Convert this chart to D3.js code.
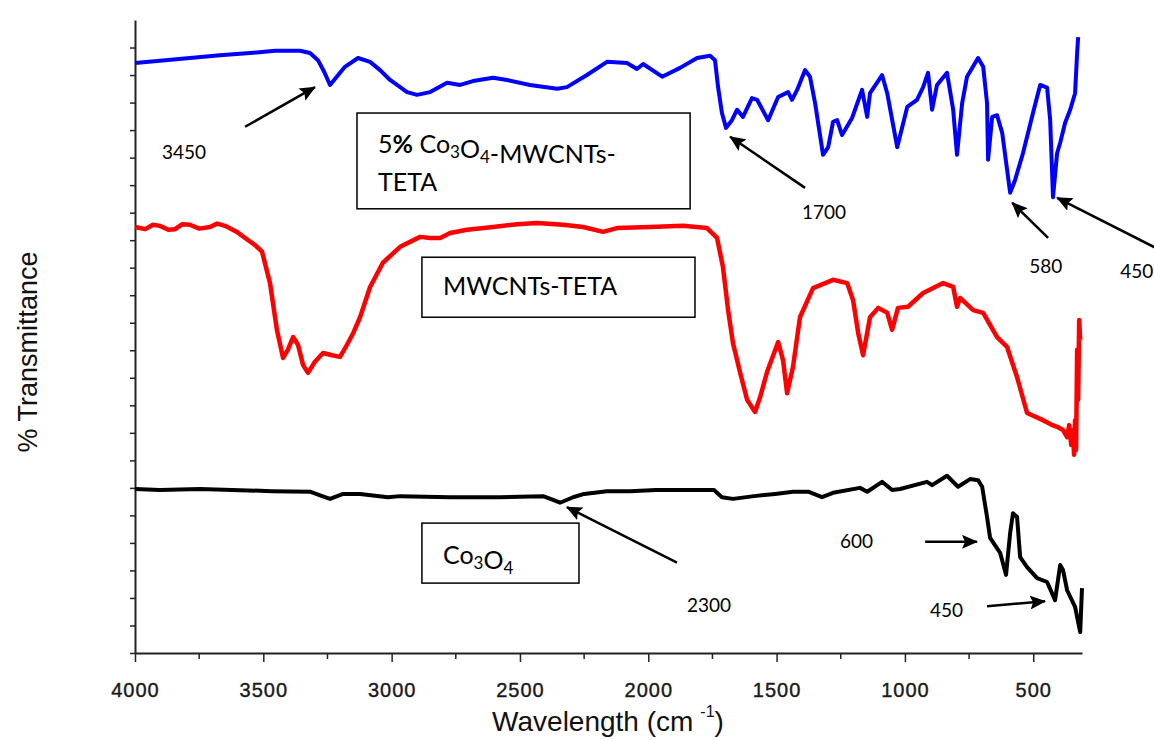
<!DOCTYPE html>
<html>
<head>
<meta charset="utf-8">
<script src="https://cdn.jsdelivr.net/npm/d3@7"></script>
<style>
  html, body { margin: 0; padding: 0; background: #fff; }
  svg { display: block; }
</style>
</head>
<body>
<svg id="chart" width="1154" height="740"></svg>
<script>
// FTIR spectra: wavenumber (cm^-1) and offset % transmittance for each sample

const blueWn = [4000,3903,3786,3669,3552,3454,3357,3318,3287,3263,3240,3217,3182,3131,3084,3045,3006,2940,2901,2850,2784,2733,2683,2605,2550,2461,2355,2317,2239,2161,2083,2044,2020,1946,1876,1810,1759,1740,1728,1713,1697,1674,1654,1631,1596,1576,1533,1494,1455,1440,1420,1389,1370,1350,1319,1299,1280,1264,1245,1206,1167,1147,1136,1089,1069,1030,991,953,929,910,894,875,836,812,797,777,758,715,695,680,676,660,641,621,590,571,540,501,473,446,434,423,407,395,376,356,337,329,325];
const blueT  = [107.2,107.6,108.1,108.6,109.0,109.4,109.4,109.0,107.7,105.6,103.2,104.5,106.5,108.1,107.4,105.9,104.1,101.9,101.4,101.9,103.6,103.2,103.9,104.5,104.1,103.2,102.5,102.8,105.0,107.4,107.2,106.1,107.0,104.7,106.3,108.1,108.5,107.7,102.8,98.1,95.4,96.8,98.7,97.4,100.8,100.5,96.8,101.0,101.9,100.5,102.3,105.9,104.7,99.9,90.5,91.9,96.5,96.8,94.1,97.2,102.3,97.4,101.7,105.0,101.7,91.9,99.2,100.5,102.8,105.4,98.7,103.2,105.4,98.7,90.5,99.9,104.7,108.1,106.5,99.9,89.6,97.4,97.7,94.5,83.6,85.9,90.8,98.1,103.2,102.7,96.8,82.8,90.8,92.7,96.3,98.7,101.7,109.0,111.9];

const redWn = [4000,3960,3930,3903,3870,3844,3815,3786,3750,3708,3680,3649,3603,3571,3532,3505,3474,3447,3423,3404,3384,3365,3345,3326,3299,3267,3232,3201,3174,3150,3123,3084,3034,2967,2889,2850,2811,2772,2706,2605,2511,2433,2332,2254,2176,2122,1993,1864,1771,1732,1709,1689,1670,1642,1615,1584,1564,1537,1494,1475,1459,1436,1409,1358,1280,1225,1202,1182,1163,1136,1104,1069,1050,1027,988,929,851,812,797,785,734,695,641,602,563,524,462,430,407,384,368,360,352,345,341,337,333,329,325,321,317];
const redT  = [77.4,77.0,77.8,77.6,76.9,77.0,77.9,77.8,77.1,77.4,78.0,77.6,76.5,75.4,74.1,72.9,67.2,58.7,53.6,55.1,57.4,56.0,52.3,50.9,52.9,54.5,54.1,53.8,56.0,58.1,61.0,66.5,70.9,73.8,75.6,75.4,75.4,76.3,76.9,77.4,77.9,78.1,77.8,77.4,76.5,77.2,77.4,77.6,77.2,75.4,70.1,62.3,56.3,50.9,46.0,43.8,46.5,51.1,56.5,53.2,47.2,52.0,61.0,66.3,67.8,67.2,64.1,58.1,54.1,61.0,62.7,61.8,58.7,62.7,62.9,65.4,67.2,66.5,62.9,64.5,62.3,61.8,57.4,55.6,50.1,43.6,42.3,41.5,41.1,40.5,39.2,41.4,37.8,40.5,36.0,42.3,36.9,55.1,46.0,60.5,56.9];

const blackWn = [4000,3903,3747,3466,3318,3271,3240,3189,3123,3014,2967,2772,2578,2410,2371,2344,2293,2250,2161,2071,1970,1837,1744,1713,1670,1588,1506,1436,1409,1377,1323,1280,1175,1147,1089,1050,1019,914,894,836,793,746,715,699,680,668,629,606,590,579,563,551,524,485,446,415,395,384,368,337,317,310];
const blackT  = [29.8,29.6,29.8,29.4,29.3,28.5,28.0,28.9,28.9,28.3,28.5,28.3,28.3,28.5,27.8,27.3,28.3,28.9,29.4,29.4,29.6,29.6,29.6,28.3,28.0,28.5,28.9,29.3,29.3,29.3,28.3,29.1,30.0,29.3,31.1,29.6,29.8,31.1,30.5,32.2,30.2,31.6,31.4,30.2,24.7,20.9,18.2,14.2,21.8,25.4,24.7,17.4,15.6,13.6,12.9,9.6,16.0,15.1,11.4,8.4,3.8,11.8];

const xTicks = [4000,3500,3000,2500,2000,1500,1000,500];
const xMinorTicks = [3750,3250,2750,2250,1750,1250,750];

// Peak call-outs: label text, label anchor (wn, T), arrow tail and head (wn, T)
const peakLabels = ["3450","1700","580","450","2300","600","450"];
const peakLabelPos = [[3895,89.8],[1401,78.9],[516,69.0],[161,68.1],[1849,7.4],[1253,19.1],[902,6.5]];
const peakArrowFrom = [[3571,95.6],[1389,84.5],[442,75.4],[6,73.2],[1888,16.4],[921,20.2],[680,8.5]];
const peakArrowTo = [[3299,102.8],[1681,93.8],[582,81.8],[407,82.7],[2317,26.5],[719,20.2],[454,9.4]];

// Sample name boxes: corners (wn, T)
const boxCorners = [[[3135,98.1],[1837,80.7]],[[2882,71.9],[1818,61.0]],[[2882,23.6],[2270,12.7]]];

const svg = d3.select("#chart");
const x = d3.scaleLinear().domain([4000, 310]).range([135, 1082]);
const y = d3.scaleLinear().domain([0, 115]).range([653, 20]);

// axes
const xAxis = d3.axisBottom(x).tickValues(xTicks).tickSize(9).tickSizeOuter(0).tickFormat(d3.format("d"));
const gx = svg.append("g").attr("transform", `translate(0,${y(0)})`).call(xAxis);
gx.select(".domain").attr("stroke", "#222").attr("stroke-width", 2);
gx.selectAll(".tick line").attr("stroke", "#222").attr("stroke-width", 1.5);
gx.selectAll(".tick text")
  .attr("font-family", "Liberation Sans, Arial, sans-serif")
  .attr("font-size", 20)
  .attr("letter-spacing", 1)
  .attr("fill", "#1a1a1a")
  .attr("stroke", "#1a1a1a")
  .attr("stroke-width", 0.4)
  .attr("y", 44)
  .attr("dy", 0);
gx.selectAll(".minor").data(xMinorTicks).enter().append("line")
  .attr("x1", d => x(d)).attr("x2", d => x(d))
  .attr("y1", 0).attr("y2", 6)
  .attr("stroke", "#222").attr("stroke-width", 1.5);

const yAxis = d3.axisLeft(y).tickValues(d3.range(0, 111, 5)).tickSize(5).tickSizeOuter(0).tickFormat("");
const gy = svg.append("g").attr("transform", `translate(${x(4000)},0)`).call(yAxis);
gy.select(".domain").attr("stroke", "#222").attr("stroke-width", 2);
gy.selectAll(".tick line").attr("stroke", "#222").attr("stroke-width", 1.5);

// axis titles
const xt = svg.append("text")
  .attr("x", 608).attr("y", 731)
  .attr("text-anchor", "middle")
  .attr("font-family", "Liberation Sans, Arial, sans-serif")
  .attr("font-size", 28)
  .attr("fill", "#111");
xt.append("tspan").text("Wavelength (cm");
xt.append("tspan").attr("font-size", 16).attr("dy", -14).attr("dx", 7).text("-1");
xt.append("tspan").attr("dy", 14).text(")");

svg.append("text")
  .attr("transform", "translate(37,352) rotate(-90)")
  .attr("text-anchor", "middle")
  .attr("font-family", "Liberation Sans, Arial, sans-serif")
  .attr("font-size", 27)
  .attr("fill", "#111")
  .text("% Transmittance");

// spectra
const line = d3.line().x(d => x(d[0])).y(d => y(d[1]));
const series = [
  { wn: blueWn, t: blueT, color: "#0000ff", w: 4 },
  { wn: redWn, t: redT, color: "#ff0000", w: 4.5 },
  { wn: blackWn, t: blackT, color: "#000000", w: 4 }
];
series.forEach(s => {
  svg.append("path")
    .datum(s.wn.map((w, i) => [w, s.t[i]]))
    .attr("d", line)
    .attr("fill", "none")
    .attr("stroke", s.color)
    .attr("stroke-width", s.w)
    .attr("stroke-linejoin", "round");
});

// sample boxes
boxCorners.forEach(b => {
  svg.append("rect")
    .attr("x", x(b[0][0])).attr("y", y(b[0][1]))
    .attr("width", x(b[1][0]) - x(b[0][0]))
    .attr("height", y(b[1][1]) - y(b[0][1]))
    .attr("fill", "#fff").attr("stroke", "#000").attr("stroke-width", 1.5);
});

const boxFont = "Lato, 'Open Sans', sans-serif";
function sub(sel, txt) {
  sel.append("tspan").attr("font-size", 17).attr("dy", 5).text(txt);
  sel.append("tspan").attr("dy", -5).text("");
}
// box 1
const t1 = svg.append("text").attr("x", x(3053)).attr("y", y(90.8))
  .attr("font-family", boxFont).attr("font-size", 25).attr("fill", "#000");
t1.append("tspan").text("5");
t1.append("tspan").attr("font-weight", "bold").text("%");
t1.append("tspan").text(" Co");
sub(t1, "3");
t1.append("tspan").text("O");
sub(t1, "4");
t1.append("tspan").text("-MWCNTs-");
svg.append("text").attr("x", x(3053)).attr("y", y(83.9))
  .attr("font-family", boxFont).attr("font-size", 25).attr("fill", "#000").text("TETA");
// box 2
svg.append("text").attr("x", x(2800)).attr("y", y(65.0))
  .attr("font-family", boxFont).attr("font-size", 25).attr("fill", "#000").text("MWCNTs-TETA");
// box 3
const t3 = svg.append("text").attr("x", x(2800)).attr("y", y(16.2))
  .attr("font-family", boxFont).attr("font-size", 25).attr("fill", "#000");
t3.append("tspan").text("Co");
sub(t3, "3");
t3.append("tspan").text("O");
sub(t3, "4");

// arrowheads
svg.append("defs").append("marker")
  .attr("id", "head")
  .attr("markerUnits", "userSpaceOnUse")
  .attr("viewBox", "0 0 16 14")
  .attr("refX", 15).attr("refY", 7)
  .attr("markerWidth", 16).attr("markerHeight", 14)
  .attr("orient", "auto")
  .append("path").attr("d", "M0,0 L16,7 L0,14 L3,7 Z").attr("fill", "#000");

peakLabels.forEach((lab, i) => {
  svg.append("line")
    .attr("x1", x(peakArrowFrom[i][0])).attr("y1", y(peakArrowFrom[i][1]))
    .attr("x2", x(peakArrowTo[i][0])).attr("y2", y(peakArrowTo[i][1]))
    .attr("stroke", "#000").attr("stroke-width", 2.5)
    .attr("marker-end", "url(#head)");
  svg.append("text")
    .attr("x", x(peakLabelPos[i][0])).attr("y", y(peakLabelPos[i][1]))
    .attr("font-family", boxFont).attr("font-size", 19).attr("fill", "#000")
    .text(lab);
});
</script>
</body>
</html>
